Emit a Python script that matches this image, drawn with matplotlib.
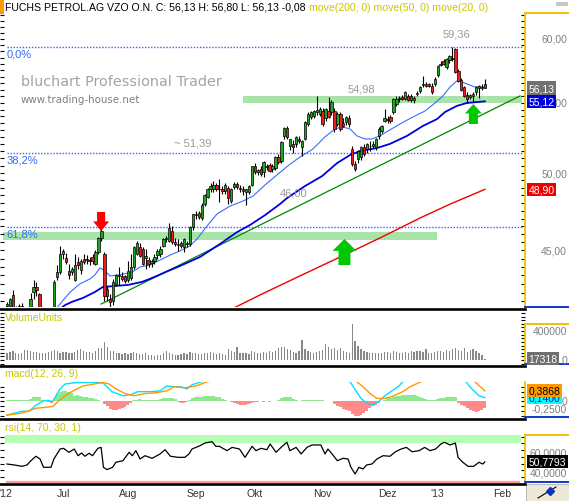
"""Daily candle chart of FUCHS PETROL VZO with volume, MACD and RSI panels
(bluchart style), drawn into a 569x502 px image."""

import numpy as np
import matplotlib
matplotlib.use("Agg")
import matplotlib.pyplot as plt
from matplotlib import transforms
from matplotlib.ticker import FixedLocator, MultipleLocator, NullFormatter
from matplotlib.patches import Rectangle
from matplotlib.lines import Line2D

W_PX, H_PX = 569, 502
PLOT_R     = 525                  # right edge of the drawing area in px
FONT       = "Liberation Sans"

# ---- daily prices, 5 Jun 2012 .. 24 Jan 2013 (one entry per trading day) ----
opens = [
    41.70, 41.75, 42.35, 41.40, 41.30, 41.75, 41.50, 41.20, 41.55, 42.55, 42.80, 42.40, 41.40, 41.10, 41.00, 41.20, 41.45, 43.40, 43.70,
    44.80, 44.55, 43.75, 43.70, 43.25, 44.30, 43.80, 44.48, 44.40, 44.45, 44.60, 44.20, 44.90, 45.75, 44.80, 42.70, 42.10, 42.00, 43.00, 43.45, 43.45, 43.45,
    43.25, 43.35, 44.00, 44.80, 45.20, 45.10, 44.55, 44.40, 44.25, 44.35, 44.70, 44.80, 45.30, 45.70, 45.60, 46.20, 45.55, 45.40, 45.45, 45.20, 45.45, 45.40, 46.45,
    47.30, 47.35, 47.05, 47.95, 48.40, 48.90, 48.95, 49.20, 48.95, 48.90, 48.80, 49.00, 48.15, 49.05, 49.25, 49.00, 48.90, 48.72, 48.75, 49.18,
    50.45, 50.10, 50.27, 50.05, 50.50, 50.55, 50.30, 50.35, 51.10, 50.80, 52.60, 53.15, 51.85, 52.00, 52.00, 52.35, 51.80, 52.40, 53.45, 53.95, 54.00, 54.30, 54.20,
    54.40, 53.90, 54.40, 54.30, 54.40, 53.45, 54.15, 53.55, 53.60, 53.90, 51.65, 50.60, 50.95, 51.10, 51.80, 51.65, 51.90, 51.85, 51.80, 52.60, 52.95, 53.70,
    53.80, 53.95, 54.30, 54.90, 55.30, 55.45, 55.30, 55.55, 55.55, 55.20, 55.75, 55.90, 56.35, 56.45, 56.40, 56.30, 56.45,
    57.15, 57.90, 58.20, 57.75, 58.30, 58.50, 59.15, 57.45, 56.75, 56.20, 55.60, 55.45, 55.50, 55.80, 56.10, 56.15, 56.45,
]
highs = [
    41.95, 42.20, 42.65, 41.70, 41.85, 41.90, 41.60, 41.50, 42.50, 43.20, 43.10, 42.50, 41.60, 41.40, 41.30, 41.60, 43.20, 44.10, 45.30,
    45.10, 44.85, 44.20, 44.00, 44.80, 44.60, 44.50, 44.80, 44.70, 44.60, 44.80, 45.00, 45.85, 46.45, 44.90, 42.90, 42.40, 43.30, 43.60, 44.00, 43.70, 43.55,
    44.35, 44.80, 45.30, 45.60, 45.45, 45.20, 45.10, 44.60, 44.50, 44.80, 45.10, 45.30, 45.80, 45.90, 46.70, 46.50, 45.75, 45.70, 45.60, 45.80, 45.60, 46.50, 47.30,
    47.50, 47.50, 48.00, 48.60, 49.00, 49.30, 49.45, 49.35, 49.60, 49.10, 49.30, 49.10, 49.00, 49.40, 49.40, 49.20, 49.10, 48.95, 49.20, 50.50,
    50.70, 50.30, 50.45, 50.80, 50.60, 50.70, 50.60, 51.20, 51.30, 52.20, 53.20, 53.30, 52.40, 52.30, 52.60, 52.60, 52.30, 53.70, 54.30, 54.40, 54.50, 55.50, 54.70,
    54.60, 54.65, 55.45, 55.20, 54.60, 54.30, 54.30, 53.90, 54.00, 54.10, 51.90, 50.80, 51.60, 51.90, 52.00, 52.10, 52.20, 52.20, 52.45, 53.20, 53.40, 54.55,
    54.00, 54.10, 55.35, 55.50, 55.50, 55.60, 55.90, 55.70, 55.70, 55.50, 55.90, 56.30, 57.05, 56.60, 56.55, 56.50, 56.95,
    57.90, 58.20, 58.40, 58.45, 58.70, 59.36, 59.25, 57.60, 56.90, 56.30, 55.80, 55.70, 55.80, 56.30, 56.35, 56.40, 56.80,
]
lows = [
    41.40, 41.60, 41.20, 41.00, 41.10, 41.40, 41.00, 40.90, 41.40, 42.10, 42.30, 41.30, 40.90, 40.80, 40.70, 41.00, 41.30, 43.20, 43.60,
    44.50, 44.20, 43.30, 43.50, 43.15, 43.90, 43.60, 44.20, 44.20, 44.10, 44.20, 44.10, 44.80, 45.60, 42.00, 42.00, 41.65, 41.80, 42.90, 42.95, 43.15, 43.05,
    43.10, 43.20, 43.90, 44.70, 44.60, 44.10, 43.90, 44.00, 44.00, 44.20, 44.50, 44.60, 45.20, 45.50, 45.50, 45.40, 45.30, 44.95, 45.15, 44.90, 45.20, 45.30, 46.30,
    47.00, 47.00, 46.90, 47.80, 48.30, 48.70, 48.70, 48.80, 48.10, 48.60, 48.60, 47.95, 48.00, 48.90, 48.90, 48.70, 48.50, 47.90, 48.60, 49.10,
    49.95, 49.90, 49.80, 49.75, 50.20, 50.05, 50.10, 50.20, 50.60, 50.70, 52.40, 52.40, 51.60, 51.40, 51.80, 52.10, 51.20, 52.30, 53.30, 53.80, 53.85, 54.10, 54.00,
    53.30, 53.70, 53.90, 54.10, 52.90, 53.30, 52.95, 53.20, 53.40, 53.20, 50.50, 50.15, 50.70, 50.90, 51.20, 51.40, 51.55, 51.70, 51.60, 52.40, 52.80, 53.60,
    53.50, 53.50, 54.20, 54.75, 55.10, 55.20, 55.20, 55.15, 55.10, 55.00, 55.50, 55.75, 56.20, 56.20, 56.20, 55.70, 56.30,
    57.00, 57.80, 57.90, 57.60, 58.10, 58.20, 57.30, 56.60, 55.90, 55.45, 55.00, 55.30, 55.10, 55.60, 55.40, 55.95, 56.13,
]
closes = [
    41.85, 42.10, 41.40, 41.30, 41.75, 41.55, 41.20, 41.40, 42.10, 42.80, 42.65, 41.50, 41.10, 41.00, 41.20, 41.40, 43.10, 43.70, 44.80,
    44.95, 44.30, 43.50, 43.88, 44.15, 44.10, 44.35, 44.30, 44.50, 44.35, 44.35, 44.90, 45.75, 46.20, 42.30, 42.30, 41.95, 43.10, 43.50, 43.55, 43.30, 43.15,
    43.75, 44.00, 45.20, 45.45, 44.65, 44.20, 44.65, 44.20, 44.35, 44.60, 44.95, 45.10, 45.70, 45.75, 46.40, 45.55, 45.42, 45.35, 45.25, 45.70, 45.40, 46.45, 47.28,
    47.20, 47.10, 47.90, 48.50, 48.92, 49.10, 49.20, 48.92, 48.90, 48.80, 49.20, 48.30, 48.92, 49.25, 49.05, 48.90, 48.80, 48.90, 49.10, 50.45,
    50.05, 50.20, 49.95, 50.75, 50.40, 50.13, 50.45, 51.10, 50.75, 52.15, 53.15, 52.50, 52.35, 51.80, 52.50, 52.25, 52.20, 53.60, 54.20, 54.30, 54.40, 54.45, 54.55,
    53.45, 54.55, 53.95, 55.05, 53.10, 54.20, 53.10, 53.30, 53.95, 53.45, 50.60, 50.30, 51.50, 51.80, 51.30, 52.00, 51.85, 52.00, 52.35, 53.10, 53.30, 53.85,
    53.75, 53.65, 55.30, 55.30, 55.35, 55.30, 55.80, 55.25, 55.22, 55.40, 55.65, 56.20, 56.45, 56.30, 56.30, 55.85, 56.82,
    57.85, 58.00, 58.00, 58.40, 58.60, 58.35, 57.40, 56.70, 56.00, 55.55, 55.30, 55.60, 55.70, 56.20, 56.25, 56.21, 56.13,
]
volume = [
    95000, 110000, 120000, 90000, 85000, 100000, 135000, 140000, 130000, 115000, 105000, 95000, 100000, 90000, 110000, 125000, 140000, 120000, 100000,
    115000, 105000, 95000, 100000, 110000, 140000, 150000, 120000, 110000, 105000, 95000, 130000, 160000, 165000, 250000, 180000, 130000, 120000, 100000, 95000, 85000, 90000,
    80000, 95000, 110000, 100000, 85000, 80000, 90000, 70000, 65000, 60000, 70000, 75000, 95000, 120000, 90000, 80000, 70000, 75000, 85000, 95000, 80000, 110000, 100000,
    90000, 80000, 85000, 95000, 100000, 110000, 90000, 80000, 100000, 85000, 75000, 150000, 130000, 110000, 180000, 100000, 95000, 90000, 85000, 120000,
    110000, 100000, 95000, 105000, 90000, 120000, 110000, 130000, 160000, 180000, 175000, 150000, 140000, 110000, 95000, 120000, 275000, 150000, 130000, 110000, 100000, 115000, 120000,
    140000, 220000, 180000, 150000, 160000, 135000, 165000, 120000, 105000, 100000, 490000, 260000, 200000, 150000, 120000, 110000, 95000, 100000, 90000, 95000, 100000, 110000,
    105000, 95000, 120000, 110000, 100000, 95000, 105000, 100000, 120000, 110000, 130000, 120000, 115000, 150000, 100000, 90000, 110000,
    130000, 120000, 115000, 140000, 125000, 150000, 165000, 140000, 120000, 165000, 110000, 140000, 150000, 120000, 90000, 75000, 17318,
]

# moving averages (day index, price)
ma20_x = [16.3, 19.0, 21.4, 24.7, 28.1, 29.8, 31.5, 32.9, 34.9, 38.3, 42.4, 45.1, 48.5, 51.9, 55.3, 58.6,
          62.0, 64.4, 67.8, 71.2, 75.6, 80.0, 83.4, 87.5, 90.8, 95.3, 99.3, 103.7, 107.8, 111.2, 113.6,
          116.3, 118.6, 121.4, 123.7, 126.4, 129.8, 133.2, 137.6, 141.7, 145.1, 147.8, 150.2, 152.5,
          154.2, 155.9, 158.6, 162.0]
ma20_y = [41.50, 42.05, 42.52, 43.00, 43.29, 43.53, 43.94, 43.82, 43.47, 43.53, 43.70, 44.00, 44.12, 44.42, 44.72, 44.97,
          45.28, 45.71, 46.52, 47.29, 47.80, 48.13, 48.46, 49.20, 49.75, 50.50, 51.10, 51.66, 52.52, 53.09, 53.24,
          53.09, 52.59, 52.37, 52.37, 52.59, 53.02, 53.45, 53.96, 54.40, 55.00, 55.53, 56.21, 56.67,
          56.59, 56.44, 56.21, 56.21]
ma50_x = [17.5, 19.7, 22.0, 25.8, 29.8, 32.5, 36.6, 41.0, 45.8, 49.2, 54.6, 58.6, 65.4, 72.2, 78.0, 82.4, 87.5,
          92.5, 94.9, 101.0, 106.8, 111.9, 116.3, 119.7, 125.4, 129.8, 135.6, 141.0, 145.8, 148.5, 152.5, 155.9, 162.0]
ma50_y = [41.50, 41.78, 41.96, 42.19, 42.53, 42.82, 42.88, 42.94, 43.12, 43.35, 43.76, 44.06, 44.60, 45.40, 46.14, 46.59, 47.22,
          47.93, 48.32, 49.12, 49.79, 50.68, 51.24, 51.52, 51.73, 52.02, 52.59, 53.31, 53.81, 54.33, 54.78, 55.00, 55.12]
ma200_x = [75.5, 85.8, 99.3, 112.9, 126.4, 140.0, 150.2, 162.0]
ma200_y = [41.50, 42.36, 43.47, 44.60, 45.77, 47.03, 47.93, 48.90]

# drawn objects: trend line, support bands, fibonacci retracement
trend_x = [31.9, 173.9]
trend_y = [41.84, 55.53]
band_start = [-1.2, 80.0]
band_end   = [145.8, 174.5]
band_lo    = [45.65, 54.98]
band_hi    = [46.14, 55.53]
fib_high   = 59.36
fib_low    = 38.50
fib_ratios = [0.0, 0.382, 0.618]
fib_labels = ["0,0%", "38,2%", "61,8%"]

# macd(12, 26, 9): histogram per day, lines read at points
macd_hist = [
    0.04, 0.05, 0.05, 0.06, 0.06, 0.06, 0.05, 0.05, 0.08,
    0.15, 0.18, 0.16,
    0.06, 0.03, -0.02, -0.05,
    0.14, 0.29, 0.36, 0.39, 0.38, 0.36, 0.30, 0.21, 0.22, 0.20, 0.18, 0.16, 0.13, 0.11, 0.09, 0.04, 0.02,
    -0.08, -0.18, -0.27, -0.32, -0.30, -0.27, -0.25, -0.19, -0.14, -0.04,
    0.05, 0.07, 0.08, 0.07, 0.06,
    0.04, 0.04, 0.05, 0.05,
    0.08, 0.12, 0.14, 0.14, 0.12, 0.08,
    -0.02, -0.04, -0.04, -0.02,
    0.06, 0.12, 0.15, 0.17, 0.18, 0.19, 0.20, 0.21, 0.21, 0.18, 0.15, 0.10, 0.04, 0.01, -0.02,
    -0.05, -0.09, -0.12, -0.14, -0.14, -0.10, -0.06, -0.02,
    -0.03, 0.0, -0.03, 0.02, -0.02, 0.0, 0.02, 0.06, 0.12,
    0.18, 0.18, 0.15, 0.10, 0.05,
    0.03, 0.04, 0.05, 0.05, 0.04, 0.04, 0.05, 0.06, 0.04, 0.03, 0.02, 0.0,
    -0.10, -0.16, -0.21, -0.27, -0.32, -0.36, -0.45, -0.54, -0.52, -0.48, -0.43, -0.34, -0.25, -0.18, -0.12, -0.07,
    0.03, 0.07, 0.11, 0.14, 0.17, 0.19, 0.21, 0.22, 0.23, 0.24, 0.25, 0.24, 0.21, 0.18, 0.14, 0.10, 0.07, 0.04,
    0.06, 0.10, 0.13, 0.14, 0.15, 0.16, 0.18, 0.16,
    -0.05, -0.12, -0.18, -0.25, -0.30, -0.36, -0.37, -0.36, -0.32, -0.25,
]
macd_x = [0, 5.1, 7.5, 9.8, 11.9, 13.6, 15.6, 16.6, 18.0, 19.7, 22.4, 25.8, 29.5, 32.5, 33.9, 35.6, 39.3,
          42.0, 44.4, 49.2, 51.9, 54.2, 56.6, 59.0, 61.0, 62.7, 64.7, 65.8, 70, 80, 95, 108, 114, 116.3,
          118.3, 120.0, 122.0, 124.4, 126.1, 128.1, 130.5, 132.9, 134.2, 140, 148, 153, 155.6, 157.6, 160.0, 162]
macd_y = [-0.50, -0.36, -0.36, -0.14, 0.00, 0.04, 0.00, 0.21, 0.46, 0.64, 0.68, 0.70, 0.70, 0.68, 0.54, 0.36, 0.21,
          0.25, 0.36, 0.36, 0.39, 0.57, 0.54, 0.54, 0.46, 0.61, 0.68, 0.72, 0.95, 0.85, 1.00, 0.95, 0.80, 0.72,
          0.39, 0.11, -0.07, -0.11, 0.00, 0.21, 0.39, 0.57, 0.72, 0.90, 1.00, 0.85, 0.72, 0.46, 0.21, 0.14]
signal_x = [0, 5.1, 9.8, 13.6, 15.6, 17.3, 19.7, 22.4, 25.8, 29.5, 32.5, 34.6, 37.0, 40.0, 43.1, 46.8, 50.5,
            54.2, 56.6, 60.3, 64.1, 67.8, 75, 90, 105, 115, 118.6, 120.7, 123.1, 125.4, 128.1, 130.5, 134.2,
            136.6, 140.3, 148, 152, 156, 158.6, 160.5, 162]
signal_y = [-0.50, -0.43, -0.25, -0.21, -0.18, 0.00, 0.21, 0.39, 0.57, 0.64, 0.70, 0.64, 0.46, 0.29, 0.21, 0.29, 0.32,
            0.39, 0.54, 0.50, 0.57, 0.72, 0.85, 0.90, 1.00, 0.90, 0.72, 0.54, 0.29, 0.11, 0.11, 0.18, 0.36,
            0.54, 0.72, 0.95, 1.00, 0.85, 0.72, 0.54, 0.3868]

# rsi(14, 70, 30, 1)
rsi_x = [0, 2.5, 5.1, 6.8, 8.1, 9.8, 11.2, 12.4, 14.9, 15.9, 18.0, 19.2, 21.0, 22.8, 24.1, 25.3, 26.4, 27.8,
         29.0, 30.8, 31.9, 32.7, 33.9, 35.8, 36.9, 39.3, 41.4, 42.5, 43.7, 45.1, 46.8, 49.2, 51.9, 53.6, 55.4,
         58.0, 60.3, 61.7, 62.7, 65.4, 67.1, 69.5, 70.8, 72.0, 74.6, 76.3, 78.8, 80.7, 83.1, 84.4, 86.1, 88.1,
         89.2, 91.2, 92.9, 94.9, 95.9, 98.0, 99.7, 101.7, 103.4, 106.4, 107.8, 108.8, 110.2, 112.0, 113.9,
         115.6, 116.6, 118.0, 119.3, 120.7, 121.9, 123.7, 125.4, 127.5, 129.8, 131.7, 133.6, 135.4, 137.3,
         139.7, 141.6, 143.4, 145.3, 147.1, 148.3, 150.2, 152.0, 152.9, 154.5, 156.3, 158.2, 160.0, 161.3, 162]
rsi_y = [48.6, 47.6, 46.2, 47.6, 52.0, 56.6, 53.8, 45.2, 45.2, 53.8, 64.1, 64.8, 60.7, 64.1, 57.2, 60.0, 56.6, 59.7,
         57.2, 64.8, 65.8, 45.2, 42.8, 45.2, 50.4, 52.0, 60.7, 57.2, 62.4, 53.8, 57.2, 54.5, 59.0, 63.4, 56.6,
         55.5, 55.5, 59.0, 64.1, 67.5, 70.3, 71.7, 66.9, 66.9, 62.4, 65.8, 64.1, 55.5, 66.9, 62.4, 64.8, 63.4,
         69.3, 60.7, 65.8, 71.1, 62.4, 65.8, 59.0, 65.8, 68.3, 68.3, 59.0, 64.1, 59.0, 52.0, 54.5,
         53.8, 45.2, 38.3, 45.2, 43.5, 47.6, 48.6, 53.8, 57.2, 56.6, 61.3, 64.1, 65.8, 61.3,
         62.4, 65.8, 62.4, 64.1, 69.3, 71.1, 68.3, 70.3, 55.5, 50.4, 46.2, 46.2, 50.4, 48.6, 50.7793]

# x axis: first trading day of each month
month_pos    = [-0.4, 19, 41, 64, 84, 107, 129, 146, 168]
month_labels = ["'12", "Jul", "Aug", "Sep", "Okt", "Nov", "Dez", "'13", "Feb"]

# annotations: (tip day, tip price, tail price, colour, shaft, head width, head length) in pt
arrows = [
    (31.9, 46.20, 47.42, "#ff0000", 5.8, 11.5, 7.0),
    (114.4, 45.71, 44.12, "#00c800", 8.6, 17.3, 8.6),
    (158.1, 54.92, 53.45, "#00c800", 6.5, 12.2, 6.8),
]

TITLE = "FUCHS PETROL.AG VZO O.N. C: 56,13 H: 56,80 L: 56,13 -0,08"
MOVES = "move(200, 0) move(50, 0) move(20, 0)"

OLIVE  = "#c8c800"
YELLOW = "#f0c000"
BLUE_B = "#1038c8"


def fx(px):
    return px / W_PX


def fy(py):
    return 1 - py / H_PX


def de(v):
    return v.replace(".", ",")


def panel(fig, top, bottom):
    ax = fig.add_axes([0, fy(bottom), PLOT_R / W_PX, (bottom - top) / H_PX])
    for side in ("top", "bottom", "left"):
        ax.spines[side].set_visible(False)
    ax.spines["right"].set_color(YELLOW)
    ax.spines["right"].set_linewidth(1.3)
    ax.set_xlim(-2.37, 175.6)
    ax.set_xticks([])
    ax.tick_params(axis="y", which="both", direction="in", left=True, right=True,
                   length=3, width=0.8, color="black", labelleft=False, labelright=False)
    return ax


def rlabel(fig, ax, y, text, box=None, tcolor="white"):
    tr = transforms.blended_transform_factory(fig.transFigure, ax.transData)
    if box is None:
        ax.text(fx(567), y, text, transform=tr, ha="right", va="center", fontsize=7.5,
                color="#808080", family=FONT, clip_on=False, zorder=10)
    else:
        ax.text(fx(528.5), y, text, transform=tr, ha="left", va="center", fontsize=7.5,
                color=tcolor, family=FONT, clip_on=False, zorder=11,
                bbox=dict(boxstyle="square,pad=0.15", fc=box, ec="none"))


def bracket(fig, ax, y_val, color):
    tr = transforms.blended_transform_factory(fig.transFigure, ax.transData)
    ax.plot([fx(PLOT_R), fx(W_PX)], [y_val, y_val], transform=tr, color=color,
            lw=1.4, clip_on=False, zorder=9)


def main():
    n = len(closes)
    for arr in (opens, highs, lows, volume, macd_hist):
        assert len(arr) == n, len(arr)
    x = np.arange(n)
    o, h, l, c = (np.array(a) for a in (opens, highs, lows, closes))

    fig = plt.figure(figsize=(W_PX / 100, H_PX / 100), dpi=100)
    fig.patch.set_facecolor("white")

    # ---------------- price panel ----------------
    ax = panel(fig, 14, 308)
    ax.set_yscale("log")
    ax.set_ylim(41.67, 62.16)
    ax.yaxis.set_major_locator(FixedLocator([45, 50, 55, 60]))
    ax.yaxis.set_minor_locator(FixedLocator(np.arange(42, 62.01, 0.5)))
    ax.yaxis.set_major_formatter(NullFormatter())
    ax.yaxis.set_minor_formatter(NullFormatter())

    for x0, x1, lo, hi in zip(band_start, band_end, band_lo, band_hi):
        ax.fill_between([x0, x1], lo, hi, color="#a8e4a8", lw=0, zorder=1)

    span = fib_high - fib_low
    for r, lab in zip(fib_ratios, fib_labels):
        lev = fib_high - r * span
        ax.plot([-0.0, 175.0], [lev, lev], color="#3366ff", lw=1.0,
                ls=(0, (1, 1.2)), zorder=1.5)
        ax.annotate(lab, xy=(0.013, lev), xycoords=("axes fraction", "data"),
                    xytext=(0, -1.5), textcoords="offset points", va="top", ha="left",
                    fontsize=8, color="#3366ff", family=FONT)

    ax.plot(trend_x, trend_y, color="#008800", lw=0.9, zorder=2)
    ax.plot(ma200_x, ma200_y, color="#ee0000", lw=1.0, zorder=2)
    ax.plot(ma50_x, ma50_y, color="#0000dd", lw=1.3, zorder=2)
    ax.plot(ma20_x, ma20_y, color="#3a6cff", lw=0.8, zorder=2)

    up = c >= o
    ax.vlines(x, l, h, color="black", lw=0.8, zorder=3)
    body_lo = np.minimum(o, c)
    body_h = np.maximum(np.abs(c - o), 0.05)
    ax.bar(x, body_h, bottom=body_lo, width=0.8,
           color=np.where(up, "#20a820", "#ee1c1c"), edgecolor="black",
           linewidth=0.5, zorder=4)

    # value tags inside the chart
    i_max = int(np.argmax(h))
    ax.annotate(de(f"{h[i_max]:.2f}"), xy=(i_max, h[i_max]), xytext=(3, 6),
                textcoords="offset points", ha="center", va="bottom", fontsize=8,
                color="#999999", family=FONT)
    ax.annotate(de(f"{band_lo[1]:.2f}"), xy=(120, band_hi[1]), xytext=(0, 2),
                textcoords="offset points", ha="center", va="bottom", fontsize=8,
                color="#999999", family=FONT)
    ax.annotate("~ " + de(f"{fib_high - 0.382 * span:.2f}"), xy=(63, fib_high - 0.382 * span),
                xytext=(0, 4), textcoords="offset points", ha="center", va="bottom",
                fontsize=8, color="#999999", family=FONT)
    ax.annotate("46,00", xy=(97.3, 46.0), xytext=(0, 30), textcoords="offset points",
                ha="center", va="center", fontsize=8, color="#999999", family=FONT)

    for xi, tip, tail, col, wd, hw, hl in arrows:
        ax.annotate("", xy=(xi, tip), xytext=(xi, tail),
                    arrowprops=dict(width=wd, headwidth=hw, headlength=hl,
                                    facecolor=col, edgecolor="none", shrink=0.0),
                    zorder=6)

    fig.text(fx(21), fy(82), "bluchart Professional Trader", fontsize=10.4,
             color="#a4a4a4", family="DejaVu Sans", va="center")
    fig.text(fx(21), fy(100), "www.trading-house.net", fontsize=7.4,
             color="#808080", family="DejaVu Sans", va="center")

    for v in (45, 50, 55, 60):
        rlabel(fig, ax, v, de(f"{v:.2f}"))
    rlabel(fig, ax, c[-1], de(f"{c[-1]:.2f}"), box="#707070")
    rlabel(fig, ax, ma50_y[-1], de(f"{ma50_y[-1]:.2f}"), box="#0000dd")
    rlabel(fig, ax, ma200_y[-1], de(f"{ma200_y[-1]:.2f}"), box="#ee0000")
    bracket(fig, ax, 62.16, YELLOW)
    bracket(fig, ax, 41.67, BLUE_B)

    # ---------------- volume panel ----------------
    av = panel(fig, 311, 365)
    av.set_ylim(-55000, 690000)
    av.yaxis.set_major_locator(MultipleLocator(50000))
    av.bar(x, volume, width=0.42, color="#888888", zorder=2)
    av.spines["right"].set_bounds(-55000, max(volume))
    rlabel(fig, av, 400000, "400000")
    rlabel(fig, av, 0, "0")
    rlabel(fig, av, volume[-1], str(volume[-1]), box="#707070")
    bracket(fig, av, max(volume), YELLOW)
    bracket(fig, av, -55000, BLUE_B)
    fig.text(fx(5), fy(318), "VolumeUnits", fontsize=7.5, color=OLIVE, family=FONT, va="center")

    # ---------------- macd panel ----------------
    am = panel(fig, 383, 418)
    am.set_ylim(-0.571, 0.714)
    am.yaxis.set_major_locator(MultipleLocator(0.18))
    hist = np.array(macd_hist)
    am.bar(x, hist, width=1.0, color=np.where(hist >= 0, "#8ee88e", "#ff8a8a"), lw=0, zorder=2)
    am.plot(macd_x, macd_y, color="#00e0ff", lw=1.0, zorder=3)
    am.plot(signal_x, signal_y, color="#ff9900", lw=1.0, zorder=3)
    rlabel(fig, am, -0.25, "-0,2500")
    rlabel(fig, am, 0, "0")
    rlabel(fig, am, macd_y[-1], de(f"{macd_y[-1]:.4f}"), box="#00ffff", tcolor="#0020c0")
    rlabel(fig, am, signal_y[-1], de(f"{signal_y[-1]:.4f}"), box="#ff9900", tcolor="black")
    bracket(fig, am, -0.571, BLUE_B)
    fig.text(fx(5), fy(374), "macd(12, 26, 9)", fontsize=7.5, color=OLIVE, family=FONT, va="center")

    # ---------------- rsi panel ----------------
    ar = panel(fig, 436, 483)
    ar.set_ylim(30, 78.6)
    ar.yaxis.set_major_locator(MultipleLocator(7))
    ar.axhspan(70, 100, xmin=5 / PLOT_R, xmax=521 / PLOT_R, color="#b4ffb4", lw=0, zorder=1)
    ar.plot([0, 173.5], [30, 30], color="#ff9a9a", lw=1.6, clip_on=False, zorder=2)
    ar.plot(rsi_x, rsi_y, color="black", lw=0.9, zorder=3)
    rlabel(fig, ar, 60, "60,0000")
    rlabel(fig, ar, 40, "40,0000")
    rlabel(fig, ar, rsi_y[-1], de(f"{rsi_y[-1]:.4f}"), box="black")
    bracket(fig, ar, 78.6, YELLOW)
    bracket(fig, ar, 30, BLUE_B)
    fig.text(fx(5), fy(428), "rsi(14, 70, 30, 1)", fontsize=7.5, color=OLIVE, family=FONT, va="center")

    # month labels under the rsi panel
    trx = transforms.blended_transform_factory(ar.transData, fig.transFigure)
    for pos, lab in zip(month_pos, month_labels):
        ar.text(pos, fy(494), lab, transform=trx, ha="center", va="center", fontsize=7.5,
                color="#333333", family=FONT, clip_on=False)

    # panel separators
    for yy in (309.5, 366.5, 419.5, 484.5):
        fig.add_artist(Line2D([0, fx(PLOT_R)], [fy(yy), fy(yy)], color="black", lw=1.9))

    # small decorations
    fig.add_artist(Rectangle((0, fy(15)), fx(4), 15 / H_PX, color="#ff9900", lw=0))
    fig.add_artist(Rectangle((fx(556), fy(7)), fx(12), 4 / H_PX, color="#c8c8c8", lw=0))
    fig.add_artist(Rectangle((fx(526), 0), fx(43), 17 / H_PX, fc="#ece9d8", ec="#b0b0b0", lw=0.6))
    fig.add_artist(Line2D([fx(538), fx(556)], [fy(499), fy(488)], color="black", lw=0.8))
    fig.add_artist(Line2D([fx(550)], [fy(492)], marker="D", ms=4.5, color="#1030c0", lw=0))

    t1 = fig.text(fx(5), fy(8), TITLE, fontsize=7.6, color="black", family=FONT, va="center")
    fig.canvas.draw()
    bb = t1.get_window_extent()
    fig.text(bb.x1 / fig.bbox.width + fx(3.5), fy(8), MOVES, fontsize=7.6, color=OLIVE,
             family=FONT, va="center")

    fig.savefig("out.png", dpi=100, facecolor="white")
    plt.close(fig)


if __name__ == "__main__":
    main()
